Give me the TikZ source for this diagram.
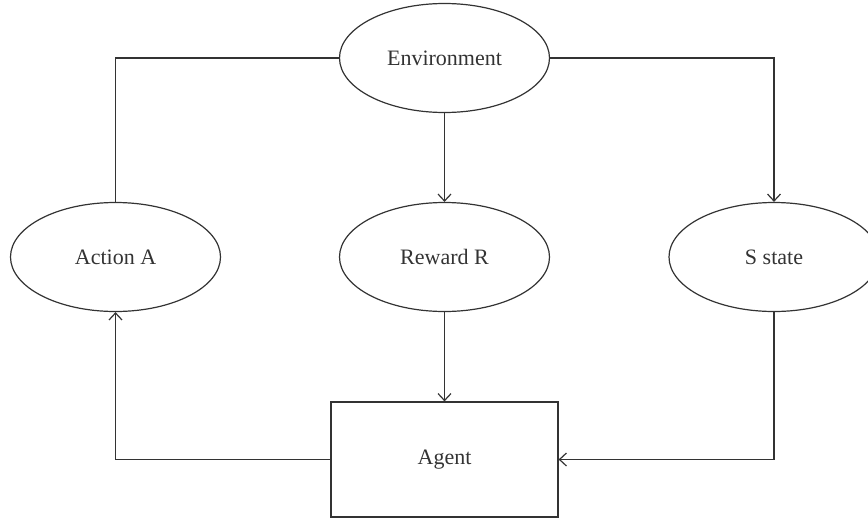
\documentclass[tikz,border=0pt]{standalone}
\usepackage{fontspec}
\setmainfont{Liberation Serif}
\usetikzlibrary{shapes.geometric,arrows.meta}
\definecolor{ink}{HTML}{333333}
\begin{document}
\begin{tikzpicture}[x=0.5pt,y=-0.5pt,
  every node/.style={font=\fontsize{11}{13}\selectfont, text=ink},
  oval/.style={ellipse, draw=ink, line width=0.6pt, inner sep=0pt, minimum width=105pt, minimum height=54.5pt},
  boxnode/.style={rectangle, draw=ink, line width=0.6pt, inner sep=0pt, minimum width=113.5pt, minimum height=57.5pt},
  conn/.style={draw=ink, line width=0.6pt},
  arr/.style={conn, -{Straight Barb[length=3.5pt,width=6.5pt]}}]
\useasboundingbox (0,0) rectangle (868,520);
\node[oval] (env) at (444.5,58) {Environment};
\node[oval] (act) at (115.5,257) {Action A};
\node[oval] (rew) at (444.5,257) {Reward R};
\node[oval] (sta) at (774,257) {S state};
\node[boxnode] (agt) at (444.5,459.5) {Agent};
\draw[conn] (act.north) |- (env.west);
\draw[arr] (env.east) -| (sta.north);
\draw[arr] (env.south) -- (rew.north);
\draw[arr] (rew.south) -- (agt.north);
\draw[arr] (sta.south) |- (agt.east);
\draw[arr] (agt.west) -| (act.south);
\end{tikzpicture}
\end{document}
